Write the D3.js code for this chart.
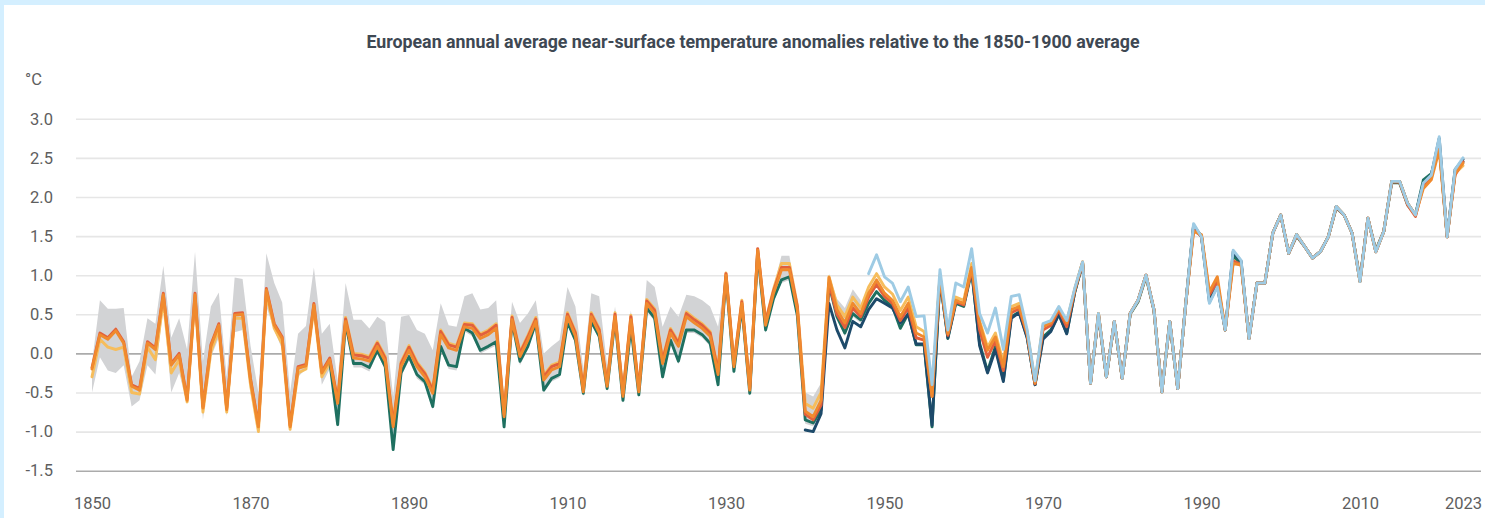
<!DOCTYPE html>
<html>
<head>
<meta charset="utf-8">
<style>
  body { margin: 0; background: #d4efff; }
  svg { display: block; }
  .title { font-family: Roboto, sans-serif; font-weight: 700; font-size: 17.8px; fill: #3e4853; }
  .unit, .axis text { font-family: Roboto, sans-serif; font-size: 16.5px; fill: #5e5e5e; }
  .axis .domain { display: none; }
  .grid line { stroke: #e6e6e6; stroke-width: 1.6; }
  .grid line.zero, .grid line.base { stroke: #ababab; stroke-width: 1.6; }
  .series { fill: none; stroke-width: 2.9; stroke-linejoin: round; stroke-linecap: round; }
</style>
<script src="https://cdn.jsdelivr.net/npm/d3@7"></script>
</head>
<body>
<svg width="1485" height="518"></svg>
<script>
// tick labels
const yTicks = [-1.5, -1.0, -0.5, 0.0, 0.5, 1.0, 1.5, 2.0, 2.5, 3.0];
const xTicks = [1850, 1870, 1890, 1910, 1930, 1950, 1970, 1990, 2010, 2023];

// grey range, 1850-1947 (one row per decade)
const bandStart = 1850;
const bandLow = [
  -0.50, -0.05, -0.22, -0.25, -0.15, -0.68, -0.60, -0.15, -0.27, 0.60,
  -0.50, -0.25, -0.65, 0.60, -0.85, -0.05, 0.20, -0.80, 0.27, 0.30,
  -0.50, -1.00, 0.60, 0.30, 0.05, -1.00, -0.30, -0.20, 0.45, -0.40,
  -0.20, -0.95, 0.35, -0.18, -0.18, -0.23, 0.00, -0.22, -1.25, -0.30,
  -0.08, -0.32, -0.40, -0.72, 0.05, -0.20, -0.22, 0.28, 0.22, 0.00,
  0.05, 0.10, -0.98, 0.37, -0.15, 0.05, 0.35, -0.50, -0.36, -0.31,
  0.36, 0.13, -0.55, 0.37, 0.18, -0.49, 0.39, -0.64, 0.30, -0.57,
  0.54, 0.41, -0.34, 0.13, -0.14, 0.26, 0.26, 0.20, 0.09, -0.44,
  0.94, -0.27, 0.56, -0.55, 1.24, 0.26, 0.66, 0.90, 0.94, 0.45,
  -0.90, -0.93, -0.76, 0.84, 0.43, 0.22, 0.47, 0.39
];
const bandHigh = [
  -0.12, 0.68, 0.57, 0.57, 0.58, -0.30, -0.10, 0.45, 0.38, 1.12,
  0.20, 0.45, 0.05, 1.30, -0.10, 0.60, 0.78, -0.30, 0.97, 0.95,
  0.10, -0.50, 1.28, 0.90, 0.65, -0.50, 0.25, 0.35, 1.10, 0.25,
  0.38, -0.35, 0.90, 0.43, 0.43, 0.32, 0.47, 0.40, -0.55, 0.47,
  0.49, 0.30, 0.25, 0.04, 0.64, 0.36, 0.34, 0.73, 0.77, 0.56,
  0.58, 0.68, -0.55, 0.66, 0.39, 0.51, 0.68, 0.00, 0.09, 0.17,
  0.85, 0.60, -0.20, 0.77, 0.73, -0.15, 0.60, -0.30, 0.55, -0.30,
  0.94, 0.85, 0.34, 0.60, 0.47, 0.75, 0.73, 0.68, 0.60, 0.34,
  1.05, -0.05, 0.70, -0.40, 1.35, 0.45, 0.85, 1.25, 1.25, 0.65,
  -0.50, -0.55, -0.38, 1.02, 0.70, 0.58, 0.82, 0.68
];

// datasets, one row per decade
const yellowStart = 1850;
const yellowValues = [
  -0.30, 0.18, 0.08, 0.05, 0.08, -0.50, -0.52, 0.08, -0.08, 0.68,
  -0.25, -0.08, -0.62, 0.70, -0.75, 0.02, 0.30, -0.75, 0.45, 0.45,
  -0.40, -1.00, 0.76, 0.32, 0.12, -0.97, -0.25, -0.20, 0.58, -0.30,
  -0.12, -0.58, 0.46, 0.00, -0.01, -0.04, 0.15, -0.04, -0.88, -0.11,
  0.10, -0.11, -0.24, -0.45, 0.30, 0.13, 0.10, 0.39, 0.38, 0.25,
  0.30, 0.38, -0.76, 0.48, 0.02, 0.23, 0.46, -0.28, -0.15, -0.11,
  0.52, 0.28, -0.44, 0.52, 0.32, -0.37, 0.52, -0.50, 0.49, -0.44,
  0.69, 0.57, -0.07, 0.32, 0.15, 0.53, 0.45, 0.38, 0.28, -0.21,
  1.03, -0.12, 0.68, -0.43, 1.33, 0.42, 0.82, 1.15, 1.15, 0.62,
  -0.64, -0.70, -0.50, 0.98, 0.62, 0.47, 0.72, 0.58, 0.85, 1.02,
  0.85, 0.76, 0.55, 0.72, 0.34, 0.28, -0.50, 1.00, 0.27, 0.72,
  0.68, 1.15, 0.42, 0.08, 0.26, -0.12, 0.60, 0.64, 0.28, -0.37,
  0.36, 0.40, 0.58, 0.40, 0.82, 1.17, -0.38, 0.51, -0.30, 0.41,
  -0.32, 0.51, 0.68, 1.00, 0.56, -0.49, 0.41, -0.45, 0.62, 1.60,
  1.50, 0.72, 0.90, 0.30, 1.22, 1.15, 0.19, 0.90, 0.90, 1.54,
  1.77, 1.28, 1.52, 1.37, 1.22, 1.30, 1.49, 1.88, 1.77, 1.54,
  0.92, 1.73, 1.30, 1.56, 2.20, 2.20, 1.92, 1.77, 2.15, 2.25,
  2.68, 1.49, 2.30, 2.40
];

const greenStart = 1880;
const greenValues = [
  -0.10, -0.91, 0.39, -0.13, -0.13, -0.18, 0.04, -0.17, -1.23, -0.25,
  -0.04, -0.27, -0.36, -0.68, 0.09, -0.15, -0.17, 0.32, 0.26, 0.04,
  0.09, 0.15, -0.94, 0.41, -0.10, 0.09, 0.39, -0.47, -0.32, -0.27,
  0.40, 0.17, -0.51, 0.41, 0.22, -0.45, 0.43, -0.60, 0.34, -0.53,
  0.58, 0.45, -0.30, 0.17, -0.10, 0.30, 0.30, 0.24, 0.13, -0.40,
  0.98, -0.23, 0.60, -0.51, 1.28, 0.30, 0.70, 0.94, 0.98, 0.49,
  -0.85, -0.89, -0.72, 0.88, 0.47, 0.26, 0.51, 0.43, 0.64, 0.79,
  0.68, 0.60, 0.32, 0.51, 0.11, 0.11, -0.94, 0.95, 0.19, 0.64,
  0.60, 1.05, 0.13, -0.23, 0.09, -0.34, 0.47, 0.53, 0.21, -0.40,
  0.21, 0.30, 0.50, 0.26, 0.78, 1.15, -0.38, 0.48, -0.30, 0.40,
  -0.32, 0.50, 0.66, 0.98, 0.55, -0.49, 0.40, -0.45, 0.62, 1.62,
  1.50, 0.70, 0.88, 0.30, 1.25, 1.15, 0.19, 0.90, 0.90, 1.54,
  1.77, 1.28, 1.50, 1.37, 1.22, 1.30, 1.49, 1.86, 1.77, 1.54,
  0.95, 1.72, 1.32, 1.56, 2.18, 2.18, 1.90, 1.77, 2.22, 2.30,
  2.65, 1.50, 2.32, 2.45
];

const navyStart = 1940;
const navyValues = [
  -0.98, -1.00, -0.77, 0.64, 0.30, 0.07, 0.41, 0.34, 0.56, 0.70,
  0.64, 0.58, 0.39, 0.50, 0.12, 0.12, -0.92, 0.96, 0.20, 0.66,
  0.62, 1.08, 0.10, -0.25, 0.05, -0.36, 0.45, 0.52, 0.20, -0.40,
  0.18, 0.28, 0.50, 0.25, 0.78, 1.15, -0.38, 0.50, -0.30, 0.41,
  -0.32, 0.51, 0.68, 1.00, 0.56, -0.49, 0.41, -0.45, 0.62, 1.64,
  1.49, 0.66, 0.86, 0.30, 1.30, 1.18, 0.19, 0.90, 0.90, 1.54,
  1.77, 1.28, 1.52, 1.37, 1.22, 1.30, 1.49, 1.88, 1.77, 1.54,
  0.92, 1.73, 1.30, 1.56, 2.20, 2.20, 1.92, 1.77, 2.18, 2.28,
  2.75, 1.49, 2.35, 2.48
];

const redStart = 1850;
const redValues = [
  -0.18, 0.26, 0.20, 0.31, 0.15, -0.40, -0.45, 0.15, 0.07, 0.77,
  -0.13, 0.00, -0.58, 0.77, -0.68, 0.11, 0.38, -0.70, 0.51, 0.52,
  -0.32, -0.92, 0.83, 0.38, 0.21, -0.92, -0.17, -0.14, 0.64, -0.23,
  -0.06, -0.60, 0.44, -0.02, -0.03, -0.06, 0.13, -0.06, -0.90, -0.13,
  0.08, -0.13, -0.26, -0.47, 0.28, 0.11, 0.08, 0.37, 0.36, 0.23,
  0.28, 0.36, -0.78, 0.46, 0.00, 0.21, 0.44, -0.30, -0.17, -0.13,
  0.50, 0.26, -0.46, 0.50, 0.30, -0.39, 0.50, -0.52, 0.47, -0.46,
  0.67, 0.55, -0.09, 0.30, 0.13, 0.51, 0.43, 0.36, 0.26, -0.23,
  1.02, -0.14, 0.66, -0.45, 1.34, 0.40, 0.80, 1.10, 1.10, 0.60,
  -0.78, -0.85, -0.66, 0.90, 0.50, 0.33, 0.58, 0.47, 0.72, 0.88,
  0.73, 0.64, 0.42, 0.58, 0.20, 0.17, -0.55, 0.97, 0.23, 0.66,
  0.62, 1.08, 0.30, -0.05, 0.16, -0.22, 0.52, 0.57, 0.24, -0.39,
  0.30, 0.36, 0.55, 0.34, 0.80, 1.16, -0.38, 0.50, -0.30, 0.41,
  -0.32, 0.51, 0.68, 1.00, 0.56, -0.49, 0.41, -0.45, 0.62, 1.58,
  1.50, 0.75, 0.92, 0.30, 1.18, 1.14, 0.19, 0.90, 0.90, 1.54,
  1.77, 1.28, 1.51, 1.37, 1.22, 1.30, 1.49, 1.87, 1.77, 1.54,
  0.93, 1.73, 1.30, 1.56, 2.19, 2.19, 1.90, 1.75, 2.15, 2.25,
  2.65, 1.49, 2.28, 2.45
];

const orangeStart = 1850;
const orangeValues = [
  -0.20, 0.24, 0.18, 0.29, 0.13, -0.42, -0.47, 0.13, 0.05, 0.75,
  -0.15, -0.02, -0.60, 0.75, -0.70, 0.09, 0.36, -0.72, 0.49, 0.50,
  -0.34, -0.94, 0.81, 0.36, 0.19, -0.94, -0.19, -0.16, 0.62, -0.25,
  -0.08, -0.64, 0.41, -0.06, -0.07, -0.10, 0.09, -0.10, -0.94, -0.17,
  0.04, -0.17, -0.30, -0.51, 0.24, 0.07, 0.04, 0.34, 0.32, 0.19,
  0.24, 0.32, -0.81, 0.43, -0.04, 0.17, 0.41, -0.34, -0.21, -0.17,
  0.47, 0.22, -0.49, 0.47, 0.26, -0.42, 0.47, -0.55, 0.43, -0.49,
  0.64, 0.51, -0.13, 0.26, 0.09, 0.47, 0.39, 0.32, 0.22, -0.27,
  1.00, -0.17, 0.64, -0.47, 1.32, 0.36, 0.77, 1.07, 1.07, 0.56,
  -0.74, -0.81, -0.60, 0.97, 0.56, 0.39, 0.64, 0.51, 0.77, 0.94,
  0.77, 0.68, 0.47, 0.64, 0.26, 0.21, -0.55, 0.98, 0.25, 0.68,
  0.64, 1.10, 0.39, 0.04, 0.21, -0.17, 0.56, 0.60, 0.26, -0.38,
  0.34, 0.39, 0.58, 0.39, 0.81, 1.17, -0.38, 0.51, -0.30, 0.41,
  -0.32, 0.51, 0.68, 1.00, 0.56, -0.49, 0.41, -0.45, 0.62, 1.56,
  1.52, 0.79, 0.98, 0.30, 1.15, 1.13, 0.19, 0.90, 0.90, 1.54,
  1.77, 1.28, 1.52, 1.37, 1.22, 1.30, 1.49, 1.88, 1.77, 1.54,
  0.92, 1.73, 1.30, 1.56, 2.20, 2.20, 1.92, 1.77, 2.11, 2.22,
  2.60, 1.49, 2.30, 2.43
];

const lightBlueStart = 1948;
const lightBlueValues = [
  1.02, 1.26,
  0.98, 0.90, 0.66, 0.85, 0.47, 0.48, -0.40, 1.07, 0.30, 0.90,
  0.85, 1.34, 0.51, 0.26, 0.58, 0.05, 0.73, 0.75, 0.30, -0.35,
  0.38, 0.42, 0.60, 0.42, 0.83, 1.17, -0.38, 0.51, -0.30, 0.41,
  -0.32, 0.51, 0.68, 1.00, 0.56, -0.49, 0.41, -0.45, 0.62, 1.66,
  1.49, 0.64, 0.85, 0.30, 1.32, 1.19, 0.19, 0.90, 0.90, 1.54,
  1.77, 1.28, 1.52, 1.37, 1.22, 1.30, 1.49, 1.88, 1.77, 1.54,
  0.92, 1.73, 1.30, 1.56, 2.20, 2.20, 1.92, 1.77, 2.18, 2.28,
  2.77, 1.49, 2.35, 2.50
];

const seriesList = [
  { start: yellowStart, values: yellowValues, color: "#f6bd5c" },
  { start: greenStart, values: greenValues, color: "#1e7060" },
  { start: navyStart, values: navyValues, color: "#1d4a6a" },
  { start: redStart, values: redValues, color: "#e2603c" },
  { start: orangeStart, values: orangeValues, color: "#f08a2e" },
  { start: lightBlueStart, values: lightBlueValues, color: "#9ecbe4" }
];

const width = 1485, height = 518;
const plotLeft = 76, plotRight = 1481;

var svg = d3.select("svg");

// light blue frame with white panel
svg.append("rect").attr("width", width).attr("height", height).attr("fill", "#d4efff");
svg.append("rect").attr("x", 4).attr("y", 5).attr("width", width - 4).attr("height", height - 5).attr("fill", "#ffffff");

var xs = d3.scaleLinear().domain([1850, 2023]).range([92, 1463]);
var ys = d3.scaleLinear().domain([-1.5, 3.0]).range([470.7, 118.8]);

svg.append("text")
  .attr("class", "title")
  .attr("x", 753).attr("y", 48)
  .attr("text-anchor", "middle")
  .text("European annual average near-surface temperature anomalies relative to the 1850-1900 average");

svg.append("text")
  .attr("class", "unit")
  .attr("x", 25).attr("y", 85)
  .text("°C");

// gridlines + y labels
var yAxis = svg.append("g")
  .attr("class", "axis grid")
  .attr("transform", "translate(" + plotLeft + ",0)")
  .call(
    d3.axisLeft(ys)
      .tickValues(yTicks)
      .tickSize(-(plotRight - plotLeft))
      .tickPadding(23)
      .tickFormat(d => d.toFixed(1))
  );
yAxis.selectAll(".tick line")
  .attr("class", d => d === 0 ? "zero" : (d === -1.5 ? "base" : null));

svg.append("g")
  .attr("class", "axis")
  .attr("transform", "translate(0," + ys(-1.5) + ")")
  .call(
    d3.axisBottom(xs)
      .tickValues(xTicks)
      .tickSize(0)
      .tickPadding(27)
      .tickFormat(d3.format("d"))
  );

// range band
var bandData = bandLow.map((v, i) => ({ year: bandStart + i, low: v, high: bandHigh[i] }));
svg.append("path")
  .datum(bandData)
  .attr("fill", "#d2d3d5")
  .attr("d", d3.area()
    .x(d => xs(d.year))
    .y0(d => ys(d.low))
    .y1(d => ys(d.high)));

const line = d3.line()
  .x(d => xs(d.year))
  .y(d => ys(d.value));

svg.selectAll("path.series")
  .data(seriesList)
  .enter()
  .append("path")
  .attr("class", "series")
  .attr("stroke", d => d.color)
  .attr("d", d => line(d.values.map((v, i) => ({ year: d.start + i, value: v }))));
</script>
</body>
</html>
